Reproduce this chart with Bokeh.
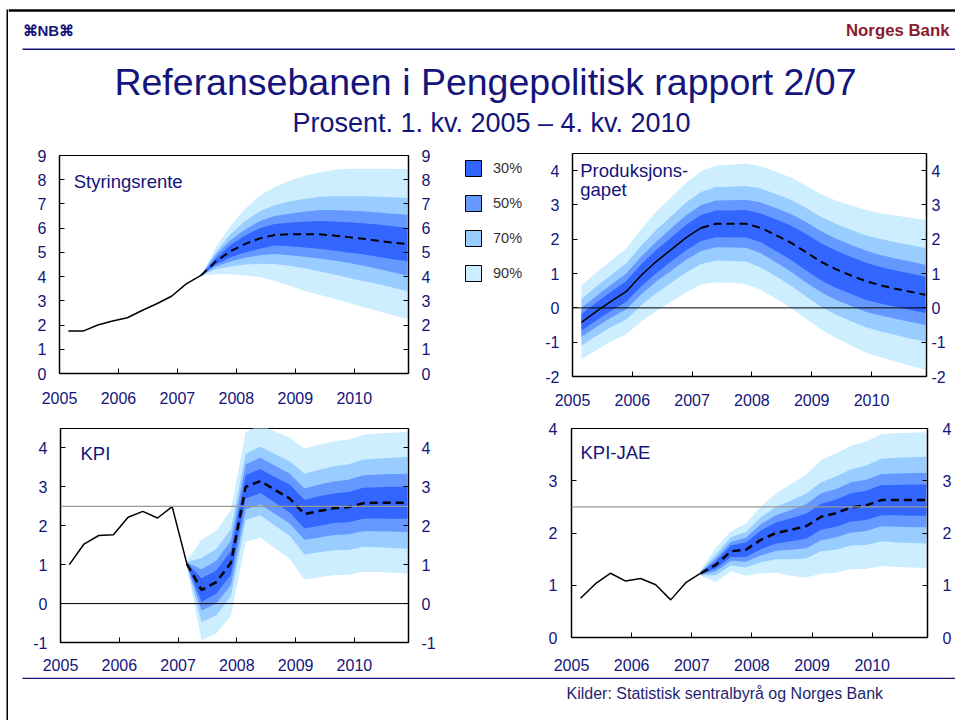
from bokeh.plotting import figure
from bokeh.layouts import row, column
from bokeh.models import (Range1d, LinearAxis, FixedTicker, Span, Label,
                          BoxAnnotation, Legend, LegendItem, Spacer)
from bokeh.embed import file_html
from bokeh.resources import INLINE

FONT = "Liberation Sans"
NAVY = "#14147a"
RED = "#8b1a2e"

# ---------------- data ----------------
quarters = [f"{y}Q{q}" for y in range(2005, 2011) for q in range(1, 5)]
years = [2005, 2006, 2007, 2008, 2009, 2010]
band_labels = ["30%", "50%", "70%", "90%"]
band_colors = ["#3366ff", "#6699ff", "#99ccff", "#cceeff"]

# Styringsrente (policy rate)
rate = [1.75, 1.75, 2.0, 2.17, 2.3, 2.6, 2.88, 3.19, 3.7, 4.05,
        4.62, 5.05, 5.35, 5.58, 5.72, 5.75, 5.75, 5.75, 5.7, 5.63,
        5.56, 5.48, 5.4, 5.35]
rate_last_hist = 9
rate_hi90 = [4.05, 5.2, 6.1, 6.8, 7.35, 7.7, 7.95, 8.15, 8.3, 8.4, 8.45, 8.45, 8.45, 8.45, 8.43]
rate_hi70 = [4.05, 5.0, 5.75, 6.3, 6.7, 6.95, 7.1, 7.2, 7.3, 7.32, 7.32, 7.32, 7.3, 7.28, 7.25]
rate_hi50 = [4.05, 4.9, 5.5, 5.95, 6.3, 6.5, 6.6, 6.68, 6.75, 6.75, 6.72, 6.7, 6.65, 6.6, 6.55]
rate_hi30 = [4.05, 4.75, 5.3, 5.7, 6.0, 6.17, 6.22, 6.27, 6.3, 6.28, 6.24, 6.2, 6.15, 6.08, 6.02]
rate_lo30 = [4.05, 4.5, 4.8, 5.0, 5.15, 5.28, 5.25, 5.2, 5.15, 5.08, 5.0, 4.92, 4.82, 4.72, 4.63]
rate_lo50 = [4.05, 4.42, 4.62, 4.78, 4.88, 4.93, 4.88, 4.82, 4.75, 4.66, 4.57, 4.45, 4.32, 4.18, 4.05]
rate_lo70 = [4.05, 4.3, 4.42, 4.5, 4.53, 4.52, 4.45, 4.35, 4.22, 4.1, 3.95, 3.82, 3.7, 3.55, 3.4]
rate_lo90 = [4.05, 4.1, 4.1, 4.05, 3.98, 3.82, 3.62, 3.42, 3.25, 3.1, 2.92, 2.75, 2.58, 2.42, 2.25]

# Produksjonsgapet (output gap); fan covers the whole period
gap = [-0.42, -0.1, 0.2, 0.48, 0.95, 1.35, 1.7, 2.05, 2.33, 2.45,
       2.45, 2.45, 2.33, 2.12, 1.9, 1.63, 1.35, 1.13, 0.95, 0.78,
       0.66, 0.56, 0.47, 0.38]
gap_last_hist = 8
gap_fan_start = 0
gap_w30 = [0.24, 0.26, 0.28, 0.3, 0.32, 0.34, 0.35, 0.37, 0.38, 0.39, 0.39, 0.4,
           0.42, 0.46, 0.5, 0.53, 0.54, 0.54, 0.54, 0.54, 0.53, 0.53, 0.53, 0.53]
gap_w50 = [0.42, 0.45, 0.48, 0.52, 0.55, 0.58, 0.62, 0.65, 0.67, 0.68, 0.69, 0.7,
           0.74, 0.79, 0.84, 0.88, 0.89, 0.89, 0.89, 0.89, 0.88, 0.88, 0.88, 0.88]
gap_w70 = [0.68, 0.72, 0.76, 0.82, 0.87, 0.92, 0.97, 1.02, 1.05, 1.07, 1.08, 1.1,
           1.15, 1.2, 1.25, 1.29, 1.31, 1.32, 1.33, 1.34, 1.35, 1.35, 1.36, 1.36]
gap_w90 = [1.08, 1.13, 1.18, 1.25, 1.35, 1.45, 1.52, 1.6, 1.65, 1.7, 1.72, 1.76,
           1.8, 1.85, 1.9, 1.94, 1.97, 2.0, 2.04, 2.08, 2.1, 2.13, 2.16, 2.18]

# KPI
kpi = [1.0, 1.53, 1.75, 1.77, 2.22, 2.37, 2.2, 2.49, 1.02, 0.35,
       0.55, 1.05, 3.0, 3.15, 2.92, 2.7, 2.3, 2.38, 2.45, 2.48,
       2.58, 2.59, 2.59, 2.59]
kpi_last_hist = 8
kpi_fan_start = 8
kpi_w30 = [0.02, 0.3, 0.3, 0.31, 0.3, 0.31, 0.33, 0.36, 0.37, 0.38, 0.38, 0.39, 0.4, 0.4, 0.41, 0.41]
kpi_w50 = [0.03, 0.53, 0.55, 0.57, 0.58, 0.6, 0.62, 0.64, 0.66, 0.68, 0.69, 0.7, 0.72, 0.73, 0.74, 0.75]
kpi_w70 = [0.05, 0.82, 0.85, 0.86, 0.85, 0.88, 0.92, 0.96, 1.04, 1.06, 1.08, 1.1, 1.12, 1.14, 1.16, 1.18]
kpi_w90 = [0.08, 1.3, 1.32, 1.36, 1.41, 1.45, 1.5, 1.56, 1.68, 1.7, 1.72, 1.74, 1.76, 1.78, 1.8, 1.82]

# KPI-JAE
jae = [0.75, 1.03, 1.23, 1.08, 1.13, 1.01, 0.72, 1.05, 1.23, 1.39,
       1.65, 1.68, 1.87, 2.0, 2.06, 2.13, 2.31, 2.38, 2.49, 2.53,
       2.63, 2.63, 2.63, 2.63]
jae_last_hist = 8
jae_fan_start = 8
jae_w30 = [0.02, 0.07, 0.11, 0.14, 0.18, 0.2, 0.22, 0.24, 0.25, 0.26, 0.27, 0.28, 0.29, 0.29, 0.3, 0.3]
jae_w50 = [0.03, 0.12, 0.18, 0.23, 0.3, 0.34, 0.38, 0.42, 0.45, 0.46, 0.48, 0.49, 0.5, 0.51, 0.52, 0.52]
jae_w70 = [0.04, 0.2, 0.27, 0.34, 0.43, 0.5, 0.56, 0.62, 0.66, 0.7, 0.73, 0.76, 0.79, 0.81, 0.82, 0.83]
jae_w90 = [0.05, 0.33, 0.38, 0.5, 0.64, 0.76, 0.88, 0.98, 1.09, 1.14, 1.18, 1.22, 1.26, 1.28, 1.29, 1.3]

# x position of each quarter on the year axis
xq = [int(s[:4]) + (int(s[-1]) - 1 + 0.6) / 4 for s in quarters]
X0, X1 = 2005, 2010.92


def fmt(v):
    return str(int(v)) if float(v).is_integer() else str(v)


def style_axis(ax, ticks, standoff):
    ax.ticker = FixedTicker(ticks=ticks)
    ax.major_label_overrides = {t: fmt(t) for t in ticks}
    ax.axis_line_color = "black"
    ax.axis_line_width = 1.5
    ax.major_tick_line_color = "black"
    ax.major_tick_in = 5
    ax.major_tick_out = 0
    ax.minor_tick_in = 0
    ax.minor_tick_out = 0
    ax.major_label_text_font = FONT
    ax.major_label_text_font_size = "16px"
    ax.major_label_text_color = NAVY
    ax.major_label_standoff = standoff


def panel(width, height, borders, ylim, yticks, standoffs):
    left, right, top, bottom = borders
    p = figure(width=width, height=height, x_range=Range1d(X0, X1),
               y_range=Range1d(*ylim), output_backend="svg",
               toolbar_location=None, tools="", frame_align=False,
               min_border_left=left, min_border_right=right,
               min_border_top=top, min_border_bottom=bottom)
    p.grid.visible = False
    p.outline_line_color = "black"
    p.outline_line_width = 1
    style_axis(p.xaxis[0], years, standoffs[0])
    style_axis(p.yaxis[0], yticks, standoffs[1])
    ra = LinearAxis()
    style_axis(ra, yticks, standoffs[2])
    p.add_layout(ra, "right")
    return p


def draw_fan(p, xs, bands):
    for (lo, hi), col in zip(bands, band_colors[::-1]):
        p.varea(x=xs, y1=lo, y2=hi, fill_color=col, fill_alpha=1)


def sym_bands(center, start, widths):
    c = center[start:]
    out = []
    for w in widths:
        out.append(([a - b for a, b in zip(c, w)], [a + b for a, b in zip(c, w)]))
    return out


def draw_lines(p, vals, last_hist, dash_w):
    p.line(xq[:last_hist + 1], vals[:last_hist + 1], line_color="black", line_width=1.5)
    p.line(xq[last_hist:], vals[last_hist:], line_color="black",
           line_width=dash_w, line_dash="8 5")


def title_label(p, x, y, text):
    p.add_layout(Label(x=x, y=y, text=text, text_font=FONT, text_font_size="18.5px",
                       text_color=NAVY, text_baseline="middle", text_align="left"))


# ---------------- panels ----------------
p1 = panel(437, 275, (51, 37, 15, 42), (0, 9), list(range(0, 10)), (18, 13, 13))
draw_fan(p1, xq[rate_last_hist:],
         [(rate_lo90, rate_hi90), (rate_lo70, rate_hi70),
          (rate_lo50, rate_hi50), (rate_lo30, rate_hi30)])
draw_lines(p1, rate, rate_last_hist, 2)
title_label(p1, 2005.24, 7.93, "Styringsrente")

p2 = panel(430, 275, (47, 29, 13, 39), (-2, 4.5), list(range(-2, 5)), (17, 13, 5))
draw_fan(p2, xq[gap_fan_start:], sym_bands(gap, gap_fan_start, [gap_w90, gap_w70, gap_w50, gap_w30]))
p2.add_layout(Span(location=0, dimension="width", line_color="black", line_width=1))
draw_lines(p2, gap, gap_last_hist, 2)
title_label(p2, 2005.13, 4.01, "Produksjons-")
title_label(p2, 2005.13, 3.46, "gapet")

p3 = panel(462, 262, (52, 62, 13, 35), (-1, 4.5), list(range(-1, 5)), (16, 13, 13))
draw_fan(p3, xq[kpi_fan_start:], sym_bands(kpi, kpi_fan_start, [kpi_w90, kpi_w70, kpi_w50, kpi_w30]))
p3.add_layout(Span(location=0, dimension="width", line_color="black", line_width=1))
p3.add_layout(Span(location=2.5, dimension="width", line_color="#999999", line_width=1.3))
draw_lines(p3, kpi, kpi_last_hist, 2.5)
title_label(p3, 2005.34, 3.87, "KPI")

p4 = panel(485, 262, (101, 28, 13, 40), (0, 4), list(range(0, 5)), (21, 14, 15))
draw_fan(p4, xq[jae_fan_start:], sym_bands(jae, jae_fan_start, [jae_w90, jae_w70, jae_w50, jae_w30]))
p4.add_layout(Span(location=2.5, dimension="width", line_color="#999999", line_width=1.3))
draw_lines(p4, jae, jae_last_hist, 2.5)
title_label(p4, 2005.15, 3.54, "KPI-JAE")

# ---------------- legend ----------------
NAN = float("nan")
lf = figure(width=80, height=275, x_range=Range1d(0, 1), y_range=Range1d(0, 1),
            output_backend="svg", toolbar_location=None, tools="", min_border=0,
            frame_align=False, x_axis_location=None, y_axis_location=None)
lf.grid.visible = False
lf.outline_line_color = None
items = []
for lab, col in zip(band_labels, band_colors):
    # swatch-only renderer (no visible data point)
    r = lf.quad(left=[NAN], right=[NAN], top=[NAN], bottom=[NAN], fill_color=col,
                line_color="black", line_width=1)
    items.append(LegendItem(label=lab, renderers=[r]))
leg = Legend(items=items, location="top_left", margin=0, padding=18, spacing=15,
             glyph_width=20, glyph_height=20, label_standoff=10,
             label_text_font=FONT, label_text_font_size="14.5px",
             label_text_color="#333333", border_line_alpha=0,
             background_fill_alpha=0)
lf.add_layout(leg, "center")


def blank(width, height):
    f = figure(width=width, height=height, x_range=Range1d(0, width),
               y_range=Range1d(height, 0), output_backend="svg",
               toolbar_location=None, tools="", min_border=0, frame_align=False,
               x_axis_location=None, y_axis_location=None)
    f.grid.visible = False
    f.outline_line_color = None
    return f


# ---------------- header ----------------
hd = blank(947, 140)
hd.add_layout(Span(location=10, dimension="width", line_color="black", line_width=2.5))
hd.add_layout(BoxAnnotation(left=14, right=947, top=48, bottom=49.6, fill_color=NAVY,
                            fill_alpha=1, line_alpha=0))
hd.add_layout(Label(x=14, y=30, text="⌘NB⌘", text_font=FONT, text_font_size="15px",
                    text_font_style="bold", text_color=NAVY, text_baseline="middle"))
hd.add_layout(Label(x=941, y=30, text="Norges Bank", text_font=FONT, text_font_size="16.8px",
                    text_font_style="bold", text_color=RED, text_baseline="middle",
                    text_align="right"))
hd.add_layout(Label(x=477, y=81, text="Referansebanen i Pengepolitisk rapport 2/07",
                    text_font=FONT, text_font_size="37.5px", text_color=NAVY,
                    text_baseline="middle", text_align="center"))
hd.add_layout(Label(x=483, y=122, text="Prosent. 1. kv. 2005 – 4. kv. 2010",
                    text_font=FONT, text_font_size="27px", text_color=NAVY,
                    text_baseline="middle", text_align="center"))

# ---------------- footer ----------------
ft = blank(947, 43)
ft.add_layout(BoxAnnotation(left=14, right=947, top=0, bottom=1.6, fill_color=NAVY,
                            fill_alpha=1, line_alpha=0))
ft.add_layout(Label(x=558, y=16, text="Kilder: Statistisk sentralbyrå og Norges Bank",
                    text_font=FONT, text_font_size="16px", text_color="#1f1f70",
                    text_baseline="middle", text_align="left"))

# left black border bar
bar = figure(width=2, height=711, output_backend="svg", toolbar_location=None, tools="",
             min_border=0, frame_align=False, x_axis_location=None, y_axis_location=None,
             background_fill_color="black", border_fill_color="black")
bar.outline_line_color = None
bar.grid.visible = False

content = column(hd, row(p1, lf, p2), row(p3, p4), ft)
page = row(Spacer(width=6, height=720), column(Spacer(width=2, height=9), bar), content)

open("out.html", "w").write(file_html(page, INLINE))
